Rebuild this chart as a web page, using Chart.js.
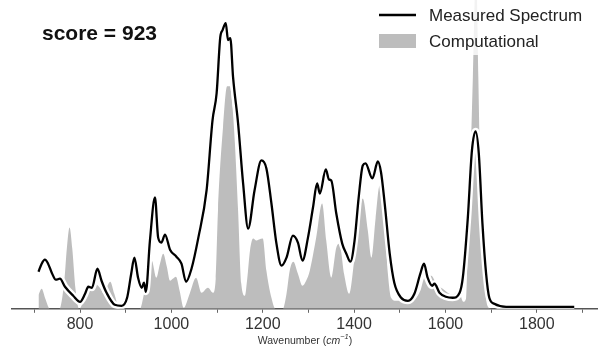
<!DOCTYPE html>
<html lang="en">
<head>
<meta charset="UTF-8" />
<title>Measured vs computational spectrum</title>
<script src="https://cdn.jsdelivr.net/npm/chart.js"></script>
<style>
  html, body { margin: 0; padding: 0; background: #fff; }
  .wrap { position: relative; width: 598px; height: 350px; }
</style>
</head>
<body>
<div class="wrap"><canvas id="spectrum"></canvas></div>
<script>
  // measured spectrum (wavenumber / intensity)
  const measuredWn = [709, 716, 723, 730, 738, 747, 756, 767, 785, 800, 811, 818, 826, 838, 847, 858, 876, 891, 903, 912,
    919, 927, 935, 940, 944, 953, 964, 971, 978, 986, 997, 1011, 1022, 1032, 1044, 1059, 1077, 1090, 1099, 1107,
    1112, 1119, 1124, 1129, 1135, 1146, 1157, 1168, 1182, 1197, 1208, 1219, 1230, 1241, 1252, 1266, 1277, 1287, 1299, 1310,
    1319, 1325, 1338, 1345, 1350, 1361, 1374, 1383, 1392, 1401, 1410, 1419, 1425, 1440, 1452, 1459, 1467, 1478, 1488, 1503,
    1518, 1532, 1545, 1553, 1561, 1571, 1576, 1587, 1601, 1616, 1631, 1638, 1649, 1658, 1666, 1673, 1681, 1689, 1696, 1707,
    1733, 1760, 1800, 1840, 1882];
  const measuredInt = [37, 45, 49, 45, 36, 29, 30, 22, 13, 7, 15, 22, 21, 40, 28, 16, 4, 3, 11, 35,
    51, 31, 21, 26, 17, 68, 111, 71, 66, 74, 59, 52, 45, 27, 40, 71, 118, 188, 215, 271,
    278, 285, 268, 270, 231, 185, 125, 80, 118, 148, 140, 105, 65, 43, 51, 73, 66, 48, 71, 101,
    125, 115, 139, 129, 128, 95, 65, 55, 47, 68, 111, 143, 145, 130, 147, 136, 105, 55, 26, 11,
    8, 15, 35, 45, 31, 23, 25, 16, 12, 11, 16, 31, 91, 158, 177, 155, 85, 35, 11, 5,
    2, 2, 2, 2, 2];

  // computed spectrum
  const compWn = [709, 716, 724, 734, 755, 766, 771, 777, 783, 790, 798, 808, 820, 833, 845, 852, 859, 866, 875, 887,
    931, 940, 946, 957, 967, 975, 982, 990, 997, 1003, 1010, 1018, 1027, 1040, 1054, 1066, 1080, 1091, 1097, 1102,
    1113, 1122, 1128, 1134, 1139, 1146, 1153, 1161, 1166, 1172, 1179, 1186, 1192, 1200, 1208, 1219, 1228, 1244, 1252, 1259,
    1267, 1277, 1287, 1295, 1303, 1317, 1330, 1339, 1350, 1361, 1368, 1378, 1389, 1401, 1419, 1430, 1438, 1447, 1456, 1467,
    1474, 1481, 1492, 1510, 1530, 1545, 1554, 1569, 1580, 1594, 1616, 1629, 1639, 1645, 1647, 1652, 1660, 1667, 1672, 1678,
    1685, 1692, 1700];
  const compInt = [14, 20, 10, 0, 0, 30, 60, 81, 60, 20, 0, 8, 20, 25, 20, 15, 22, 27, 15, 0,
    0, 15, 28, 48, 31, 45, 55, 42, 28, 30, 32, 18, 1, 15, 31, 16, 21, 16, 30, 98,
    181, 222, 222, 200, 165, 98, 25, 13, 30, 58, 70, 68, 69, 70, 38, 11, 0, 0, 15, 38,
    47, 35, 23, 28, 38, 71, 105, 68, 31, 61, 65, 35, 15, 51, 110, 78, 51, 90, 123, 81,
    35, 11, 8, 8, 9, 18, 31, 33, 25, 20, 14, 18, 7, 10, 31, 98, 231, 340, 231, 98,
    31, 3, 0];

  const xLabelStep = 200;
  const scoreText = 'score = 923';

  const toPoints = (xs, ys) => xs.map((x, i) => ({ x: x, y: ys[i] }));

  const FONT = "'Liberation Sans', Arial, sans-serif";

  // score, legend box and axis title
  const overlay = {
    id: 'overlay',
    afterDatasetsDraw(chart) {
      const ctx = chart.ctx;
      ctx.save();
      // legend frame (white, a bit see-through)
      ctx.fillStyle = 'rgba(255,255,255,0.8)';
      ctx.fillRect(372, 0, 226, 55);

      let y = 15;
      chart.data.datasets.forEach(ds => {
        if (!ds.label) return;
        if (ds.fill) {
          ctx.fillStyle = ds.backgroundColor;
          ctx.fillRect(379, y - 7, 37, 14);
        } else {
          ctx.strokeStyle = ds.borderColor;
          ctx.lineWidth = 2.5;
          ctx.beginPath();
          ctx.moveTo(379, y);
          ctx.lineTo(416, y);
          ctx.stroke();
        }
        ctx.fillStyle = '#222';
        ctx.font = '17px ' + FONT;
        ctx.textBaseline = 'middle';
        ctx.fillText(ds.label, 429, y + 1);
        y += 26;
      });

      ctx.fillStyle = '#111';
      ctx.font = 'bold 21px ' + FONT;
      ctx.textBaseline = 'middle';
      ctx.fillText(scoreText, 42, 34);
      ctx.restore();
    },
    afterDraw(chart) {
      const ctx = chart.ctx;
      const area = chart.chartArea;
      ctx.save();
      ctx.fillStyle = '#333';
      ctx.textBaseline = 'middle';
      const parts = [
        { t: 'Wavenumber (', f: '10.5px ' + FONT, dy: 0 },
        { t: 'cm', f: 'italic 10.5px ' + FONT, dy: 0 },
        { t: '\u22121', f: 'italic 7.5px ' + FONT, dy: -4 },
        { t: ')', f: '10.5px ' + FONT, dy: 0 }
      ];
      let total = 0;
      parts.forEach(p => { ctx.font = p.f; p.w = ctx.measureText(p.t).width; total += p.w; });
      let x = (area.left + area.right) / 2 - total / 2;
      parts.forEach(p => {
        ctx.font = p.f;
        ctx.fillText(p.t, x, 341 + p.dy);
        x += p.w;
      });
      ctx.restore();
    }
  };

  new Chart(document.getElementById('spectrum'), {
    type: 'line',
    data: {
      datasets: [
        {
          label: 'Measured Spectrum',
          data: toPoints(measuredWn, measuredInt),
          borderColor: '#000',
          borderWidth: 2.3,
          pointRadius: 0,
          fill: false,
          cubicInterpolationMode: 'monotone',
          order: 0
        },
        {
          // white halo under the measured line
          data: toPoints(measuredWn, measuredInt),
          borderColor: '#fff',
          borderWidth: 7,
          pointRadius: 0,
          fill: false,
          cubicInterpolationMode: 'monotone',
          order: 1
        },
        {
          label: 'Computational',
          data: toPoints(compWn, compInt),
          borderColor: 'rgba(0,0,0,0)',
          borderWidth: 0,
          backgroundColor: '#bdbdbd',
          pointRadius: 0,
          fill: 'origin',
          cubicInterpolationMode: 'monotone',
          order: 2
        }
      ]
    },
    options: {
      responsive: true,
      maintainAspectRatio: false,
      animation: false,
      layout: { padding: { left: 12, right: 0, top: 0, bottom: 14 } },
      plugins: {
        legend: { display: false },
        tooltip: { enabled: false }
      },
      scales: {
        x: {
          type: 'linear',
          min: 651,
          max: 1934,
          border: { display: true, color: '#555', width: 1.5 },
          grid: { display: true, drawOnChartArea: false, drawTicks: true, tickLength: 4, color: '#666' },
          ticks: {
            stepSize: 100,
            includeBounds: false,
            padding: 2,
            maxRotation: 0,
            autoSkip: false,
            color: '#333',
            font: { family: FONT, size: 16 },
            callback: v => (v % xLabelStep === 0 ? v : '')
          }
        },
        y: {
          display: false,
          min: 0,
          max: 308
        }
      }
    },
    plugins: [overlay]
  });
</script>
</body>
</html>
